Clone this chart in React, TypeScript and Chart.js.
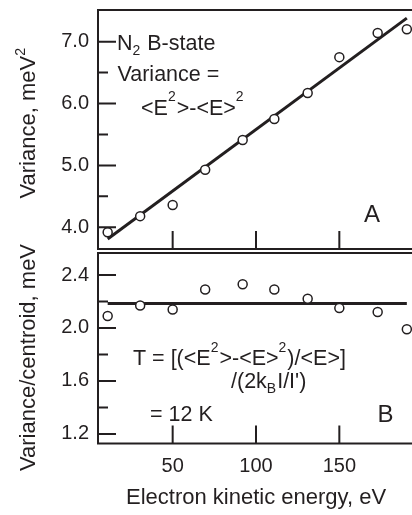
import React, { useEffect, useRef } from 'react';
import { Chart, registerables } from 'chart.js';

Chart.register(...registerables);

// ---- data ----
const energy = [11, 30.5, 50, 69.5, 92, 111, 131, 150, 173, 190.5];
const variance = [3.92, 4.18, 4.36, 4.93, 5.41, 5.75, 6.17, 6.75, 7.14, 7.2];
const ratio = [2.09, 2.17, 2.14, 2.29, 2.33, 2.29, 2.22, 2.15, 2.12, 1.99];
const varianceFitX = [11, 190.5];
const varianceFitY = [3.81, 7.38];
const ratioFitX = [11, 190.5];
const ratioFitY = [2.185, 2.185];

const xTicks = [50, 100, 150];
const varianceTicks = [4.0, 5.0, 6.0, 7.0];
const varianceMinor = [4.5, 5.5, 6.5];
const ratioTicks = [1.2, 1.6, 2.0, 2.4];
const ratioMinor = [1.4, 1.8, 2.2];

type Seg = [string, '' | 'sup' | 'sub'];
const xTitle: Seg[] = [['Electron kinetic energy, eV', '']];
const yTitleTop: Seg[] = [['Variance, meV', ''], ['2', 'sup']];
const yTitleBottom: Seg[] = [['Variance/centroid, meV', '']];
const noteState: Seg[] = [['N', ''], ['2', 'sub'], [' B-state', '']];
const noteVariance: Seg[] = [['Variance =', '']];
const noteFormula: Seg[] = [['<E', ''], ['2', 'sup'], ['>-<E>', ''], ['2', 'sup']];
const noteT1: Seg[] = [['T = [(<E', ''], ['2', 'sup'], ['>-<E>', ''], ['2', 'sup'], [')/<E>]', '']];
const noteT2: Seg[] = [['/(2k', ''], ['B', 'sub'], ['I/I\')', '']];
const noteT3: Seg[] = [['= 12 K', '']];
const labelA: Seg[] = [['A', '']];
const labelB: Seg[] = [['B', '']];

const INK = '#231f20';
const FAMILY = "'Liberation Sans', Arial, Helvetica, sans-serif";

Chart.defaults.font.family = FAMILY;
Chart.defaults.color = INK;

function drawRich(
  ctx: CanvasRenderingContext2D,
  segs: Seg[],
  x: number,
  y: number,
  size: number,
  rotate: boolean,
  supRaise = 0.62
) {
  ctx.save();
  ctx.translate(x, y);
  if (rotate) ctx.rotate(-Math.PI / 2);
  ctx.fillStyle = INK;
  ctx.textBaseline = 'alphabetic';
  ctx.textAlign = 'left';
  let cx = 0;
  for (const [t, k] of segs) {
    const fs = k ? size * 0.65 : size;
    ctx.font = `${fs}px ${FAMILY}`;
    const dy = k === 'sup' ? -size * supRaise : k === 'sub' ? size * 0.25 : 0;
    ctx.fillText(t, cx, dy);
    cx += ctx.measureText(t).width + (k ? 1 : 0);
  }
  ctx.restore();
}

type TextItem = { segs: Seg[]; x: number; y: number; size: number; rotate?: boolean; raise?: number };
type PanelCfg = {
  majorY: number[];
  minorY: number[];
  texts: TextItem[];
};

function makePanelPlugin(cfg: PanelCfg) {
  return {
    id: 'panelDecor',
    afterDraw(chart: any) {
      const ctx: CanvasRenderingContext2D = chart.ctx;
      const { left, right, top, bottom } = chart.chartArea;
      const xs = chart.scales.x;
      const ys = chart.scales.y;
      ctx.save();
      ctx.strokeStyle = INK;
      ctx.lineWidth = 2;
      ctx.strokeRect(left, top, right - left, bottom - top);
      ctx.beginPath();
      for (const v of cfg.majorY) {
        const p = ys.getPixelForValue(v);
        ctx.moveTo(left, p);
        ctx.lineTo(left + 18, p);
      }
      for (const v of cfg.minorY) {
        const p = ys.getPixelForValue(v);
        ctx.moveTo(left, p);
        ctx.lineTo(left + 10, p);
      }
      for (const v of xTicks) {
        const p = xs.getPixelForValue(v);
        ctx.moveTo(p, bottom);
        ctx.lineTo(p, bottom - 18);
      }
      ctx.stroke();
      ctx.restore();
      for (const t of cfg.texts) {
        drawRich(ctx, t.segs, t.x, t.y, t.size, !!t.rotate, t.raise ?? 0.62);
      }
    },
  };
}

const X_MIN = 5.2;
const X_MAX = 194.8;

function pointsOf(xs: number[], ys: number[]) {
  return xs.map((x, i) => ({ x, y: ys[i] }));
}

function makeConfig(
  values: number[],
  fitX: number[],
  fitY: number[],
  yMin: number,
  yMax: number,
  yTicks: number[],
  padding: any,
  showX: boolean,
  plugin: any
): any {
  return {
    type: 'scatter',
    data: {
      datasets: [
        {
          data: pointsOf(energy, values),
          pointRadius: 4.5,
          pointBackgroundColor: '#ffffff',
          pointBorderColor: INK,
          pointBorderWidth: 1.5,
          showLine: false,
        },
        {
          data: pointsOf(fitX, fitY),
          showLine: true,
          borderColor: INK,
          borderWidth: 3,
          pointRadius: 0,
        },
      ],
    },
    options: {
      animation: false,
      responsive: false,
      events: [],
      layout: { padding },
      plugins: { legend: { display: false }, tooltip: { enabled: false } },
      scales: {
        x: {
          type: 'linear',
          min: X_MIN,
          max: X_MAX,
          display: showX,
          afterFit: (s: any) => {
            s.height = showX ? 71.5 : 0;
            s.paddingLeft = 0;
            s.paddingRight = 0;
          },
          afterBuildTicks: (s: any) => {
            s.ticks = xTicks.map((v) => ({ value: v }));
          },
          grid: { display: false, drawTicks: false },
          border: { display: false },
          ticks: { padding: 11, font: { size: 20 }, color: INK, maxRotation: 0, autoSkip: false },
        },
        y: {
          type: 'linear',
          min: yMin,
          max: yMax,
          afterFit: (s: any) => {
            s.width = 98;
            s.paddingTop = 0;
            s.paddingBottom = 0;
          },
          afterBuildTicks: (s: any) => {
            s.ticks = yTicks.map((v) => ({ value: v }));
          },
          grid: { display: false, drawTicks: false },
          border: { display: false },
          ticks: {
            padding: 9,
            font: { size: 20 },
            color: INK,
            callback: (v: any) => Number(v).toFixed(1),
          },
        },
      },
    },
    plugins: [plugin],
  };
}

export default function App() {
  const topRef = useRef<HTMLCanvasElement>(null);
  const botRef = useRef<HTMLCanvasElement>(null);

  useEffect(() => {
    const topPlugin = makePanelPlugin({
      majorY: varianceTicks,
      minorY: varianceMinor,
      texts: [
        { segs: yTitleTop, x: 34.5, y: 198.5, size: 22, rotate: true, raise: 0.42 },
        { segs: noteState, x: 117, y: 49.5, size: 21.5 },
        { segs: noteVariance, x: 117.5, y: 80.5, size: 21.5 },
        { segs: noteFormula, x: 141, y: 114.5, size: 21.5 },
        { segs: labelA, x: 364, y: 222, size: 24 },
      ],
    });
    const botPlugin = makePanelPlugin({
      majorY: ratioTicks,
      minorY: ratioMinor,
      texts: [
        { segs: yTitleBottom, x: 34.5, y: 471, size: 22, rotate: true },
        { segs: noteT1, x: 133, y: 365, size: 21.5 },
        { segs: noteT2, x: 231, y: 388, size: 21.5 },
        { segs: noteT3, x: 150, y: 421, size: 21.5 },
        { segs: labelB, x: 377.5, y: 421.5, size: 24 },
        { segs: xTitle, x: 126, y: 503.5, size: 22 },
      ],
    });
    const c1 = new Chart(
      topRef.current as HTMLCanvasElement,
      makeConfig(variance, varianceFitX, varianceFitY, 3.649, 7.512, varianceTicks,
        { top: 10, bottom: 266, left: 0, right: 6 }, false, topPlugin)
    );
    const c2 = new Chart(
      botRef.current as HTMLCanvasElement,
      makeConfig(ratio, ratioFitX, ratioFitY, 1.128, 2.566, ratioTicks,
        { top: 253, bottom: 0, left: 0, right: 6 }, true, botPlugin)
    );
    return () => {
      c1.destroy();
      c2.destroy();
    };
  }, []);

  return (
    <div
      style={{
        position: 'fixed',
        left: 0,
        top: 0,
        width: 412,
        height: 515,
        overflow: 'hidden',
        background: '#ffffff',
      }}
    >
      <canvas ref={topRef} width={420} height={515} style={{ position: 'absolute', left: 0, top: 0, width: 420, height: 515 }} />
      <canvas ref={botRef} width={420} height={515} style={{ position: 'absolute', left: 0, top: 0, width: 420, height: 515 }} />
    </div>
  );
}
